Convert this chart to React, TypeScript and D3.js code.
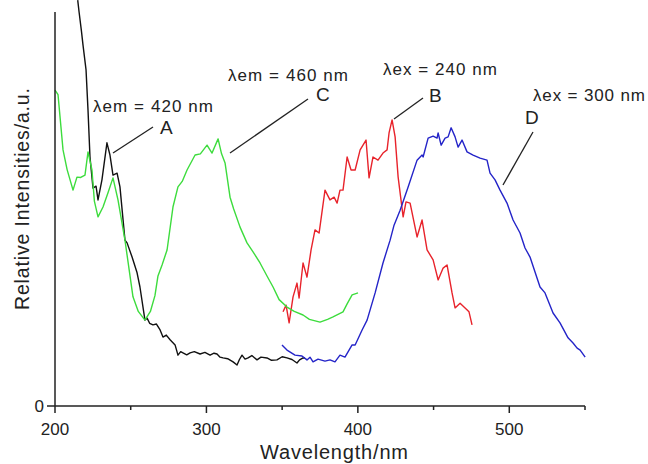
import React from "react";
import * as d3 from "d3";

// [wavelength nm, relative intensity]
const curveA: [number, number][] = [
  [215.0, 103], [215.9, 100], [217.5, 95], [218.5, 91.6], [220.5, 85.3], [221.8, 75.1], [223.1, 63.2],
  [225.1, 55.3], [227.1, 55.8], [228.4, 52.3], [231.0, 57.4], [234.3, 66.8], [236.3, 63.7],
  [238.3, 58.6], [241.0, 59.1], [242.9, 55.6], [246.2, 42.1], [247.6, 41.4], [250.9, 37.8],
  [254.2, 33.8], [256.1, 30.2], [259.4, 21.8], [260.8, 22.3], [262.5, 21.0], [264.7, 20.6], [267, 20.8],
  [269.4, 19.3], [271.3, 17.5], [273.5, 18.0], [276.0, 16.8], [279.3, 15.5], [281.2, 12.9], [283, 13.8],
  [284.5, 13.5], [287, 13.0], [289.2, 13.5], [292, 13.8], [295.8, 13.2], [299, 13.6], [302.4, 12.9],
  [305, 13.4], [307.0, 13.2], [309, 12.4], [311.0, 12.2], [314, 12.0], [317.6, 11.2], [320.2, 10.4],
  [321.8, 11.8], [323.5, 12.9], [325.5, 11.9], [327.5, 12.2], [330, 12.8], [333.4, 11.7], [336, 12.4],
  [340.0, 12.2], [343, 11.6], [346.6, 11.7], [350, 12.5], [353.2, 12.2], [356.5, 11.8], [359.8, 10.9],
  [361.5, 11.7], [363.8, 12.2], [365.1, 12.2],
];

const curveB: [number, number][] = [
  [350.6, 23.9], [352.6, 25.6], [354.6, 21.1], [357.2, 27.7], [359.8, 31.2], [361.2, 27.4],
  [363.8, 36.3], [366.4, 32.7], [369.1, 39.6], [371.7, 44.7], [374.4, 43.9], [378.3, 54.8],
  [381.6, 52.3], [384.3, 53.0], [386.3, 51.5], [388.2, 54.8], [390.2, 54.8], [392.9, 63.2],
  [395.5, 59.9], [398.2, 59.9], [401.5, 65.0], [405.4, 67.5], [407.4, 57.9], [410.0, 63.2],
  [413.3, 62.4], [416.6, 64.2], [419.3, 65.0], [420.6, 69.3], [422.6, 72.6], [424.6, 68.3],
  [426.6, 58.1], [429.9, 48.0], [431.8, 51.8], [434.5, 51.5], [439.1, 42.9], [442.4, 47.2],
  [445.7, 39.6], [449.7, 37.1], [453.0, 32.0], [456.3, 35.0], [458.9, 35.8], [462.2, 28.7],
  [464.2, 24.9], [467.5, 26.1], [470.8, 24.9], [473.4, 23.9], [475.4, 20.6],
];

const curveC: [number, number][] = [
  [200, 80.2], [202, 79], [205.3, 65], [208, 60], [211.9, 54.8], [214.5, 58.1], [217, 58],
  [219.8, 58.6], [221.8, 64.5], [224.4, 59.9], [226, 52], [228.4, 48], [231.7, 50.5], [235, 54.1],
  [238.3, 57.9], [241.6, 52.3], [246.2, 42.1], [251.5, 27.7], [255, 24], [259.4, 21.8], [263, 24],
  [266, 28], [268, 33], [270.7, 35.8], [274, 39.6], [277.9, 50.5], [281.2, 55.6], [284, 57],
  [287.2, 59.9], [292.5, 63.7], [296, 64], [300.4, 66.2], [303.7, 64.2], [307.7, 67.8], [310, 64],
  [312.3, 61.7], [315.6, 53], [318, 50], [322.2, 45.4], [326.8, 41.4], [331, 39], [335.4, 36.3],
  [340, 33], [344, 30.2], [348, 27], [353.2, 25.1], [358, 24], [363.8, 23.1], [368, 22],
  [375, 21.3], [380, 22], [383.6, 22.6], [390.2, 23.9], [393, 26], [396.2, 28.2], [400.1, 28.7],
];

const curveD: [number, number][] = [
  [349.9, 15.5], [353.2, 14.2], [358.5, 12.9], [363.1, 12.7], [366.4, 11.7], [368.4, 12.4],
  [370.4, 11.2], [373.7, 11.9], [378.3, 11.4], [381.6, 11.7], [384.9, 11.2], [388.2, 12.9],
  [391.5, 12.4], [396.2, 15.5], [398.2, 15.5], [402.8, 19.3], [406.1, 21.8], [411.4, 28.7],
  [416.6, 36.3], [421.3, 42.1], [423.9, 45.9], [427.9, 49.7], [433.2, 55.6], [439.1, 62.4],
  [442.4, 63.7], [443.1, 63.2], [446.4, 68.0], [449.7, 68.5], [452.3, 68.0], [453.0, 69.3],
  [455.0, 66.2], [457.6, 68.0], [459.6, 68.3], [461.6, 70.6], [464.2, 68.3], [466.2, 65.7],
  [468.8, 67.5], [472.1, 64.5], [476.1, 63.7], [480.7, 62.9], [485.3, 62.4], [487.3, 59.1],
  [490.6, 57.4], [493.9, 54.8], [498.5, 51.5], [502.5, 47.2], [507.1, 43.9], [510.4, 40.1],
  [513.7, 37.8], [520.3, 30.2], [523.6, 28.7], [528.9, 23.6], [533.5, 21.1], [538.8, 17.3],
  [542.1, 16.0], [544.8, 14.7], [546.8, 14.2], [550.1, 12.4],
];

const majorTicks = [200, 300, 400, 500];
const minorTicks = [250, 350, 450, 550];
const xDomain: [number, number] = [200, 550];
const yDomain: [number, number] = [0, 100];

const seriesColors = ["#111111", "#e8232b", "#3ddc3d", "#2424c8"];

const FONT = "'Liberation Sans', Arial, Helvetica, sans-serif";

export default function App() {
  const x = d3.scaleLinear().domain(xDomain).range([55, 585]);
  const y = d3.scaleLinear().domain(yDomain).range([406, 12]);
  const line = d3
    .line<[number, number]>()
    .x((d) => x(d[0]))
    .y((d) => y(d[1]))
    .curve(d3.curveLinear);

  const curves = [curveA, curveB, curveC, curveD];

  return (
    <svg
      width={648}
      height={464}
      style={{ position: "absolute", left: 0, top: 0, background: "#fff" }}
      fontFamily={FONT}
    >
      <rect width={648} height={464} fill="#fff" />
      {curves.map((c, i) => (
        <path
          key={i}
          d={line(c) || ""}
          fill="none"
          stroke={seriesColors[i]}
          strokeWidth={1.4}
          strokeLinejoin="round"
        />
      ))}

      {/* axes */}
      <line x1={x(200)} x2={x(200)} y1={y(100)} y2={y(0)} stroke="#222" strokeWidth={1.5} />
      <line x1={x(200) - 8} x2={x(550)} y1={y(0)} y2={y(0)} stroke="#222" strokeWidth={1.5} />
      {majorTicks.map((t) => (
        <g key={t}>
          <line x1={x(t)} x2={x(t)} y1={y(0)} y2={y(0) + 7} stroke="#222" strokeWidth={1.5} />
          <text x={x(t)} y={435} textAnchor="middle" fontSize={17} fill="#222">
            {t}
          </text>
        </g>
      ))}
      {minorTicks.map((t) => (
        <line key={t} x1={x(t)} x2={x(t)} y1={y(0)} y2={y(0) + 4} stroke="#222" strokeWidth={1.5} />
      ))}
      <text x={44} y={412} textAnchor="end" fontSize={17} fill="#222">
        0
      </text>

      <text x={260} y={459} fontSize={20} fill="#222" textLength={148} lengthAdjust="spacing">
        Wavelength/nm
      </text>
      <text
        transform="translate(29,310) rotate(-90)"
        x={0}
        y={0}
        fontSize={19.5}
        fill="#222"
        textLength={222}
        lengthAdjust="spacing"
      >
        Relative Intensities/a.u.
      </text>

      {/* annotations */}
      <g fontSize={17} fill="#222">
        <text x={93} y={112} textLength={120} lengthAdjust="spacing">λem = 420 nm</text>
        <text x={160} y={134} fontSize={19}>A</text>
        <text x={228} y={81} textLength={120} lengthAdjust="spacing">λem = 460 nm</text>
        <text x={316} y={101} fontSize={19}>C</text>
        <text x={383} y={75} textLength={114} lengthAdjust="spacing">λex = 240 nm</text>
        <text x={429} y={102} fontSize={19}>B</text>
        <text x={533} y={101} textLength={112} lengthAdjust="spacing">λex = 300 nm</text>
        <text x={525} y={124} fontSize={19}>D</text>
      </g>
      <g stroke="#222" strokeWidth={1.3}>
        <line x1={113} y1={153} x2={153} y2={127} />
        <line x1={230} y1={153} x2={308} y2={99} />
        <line x1={394} y1={119} x2={423} y2={98} />
        <line x1={503} y1={185} x2={533} y2={132} />
      </g>
    </svg>
  );
}
